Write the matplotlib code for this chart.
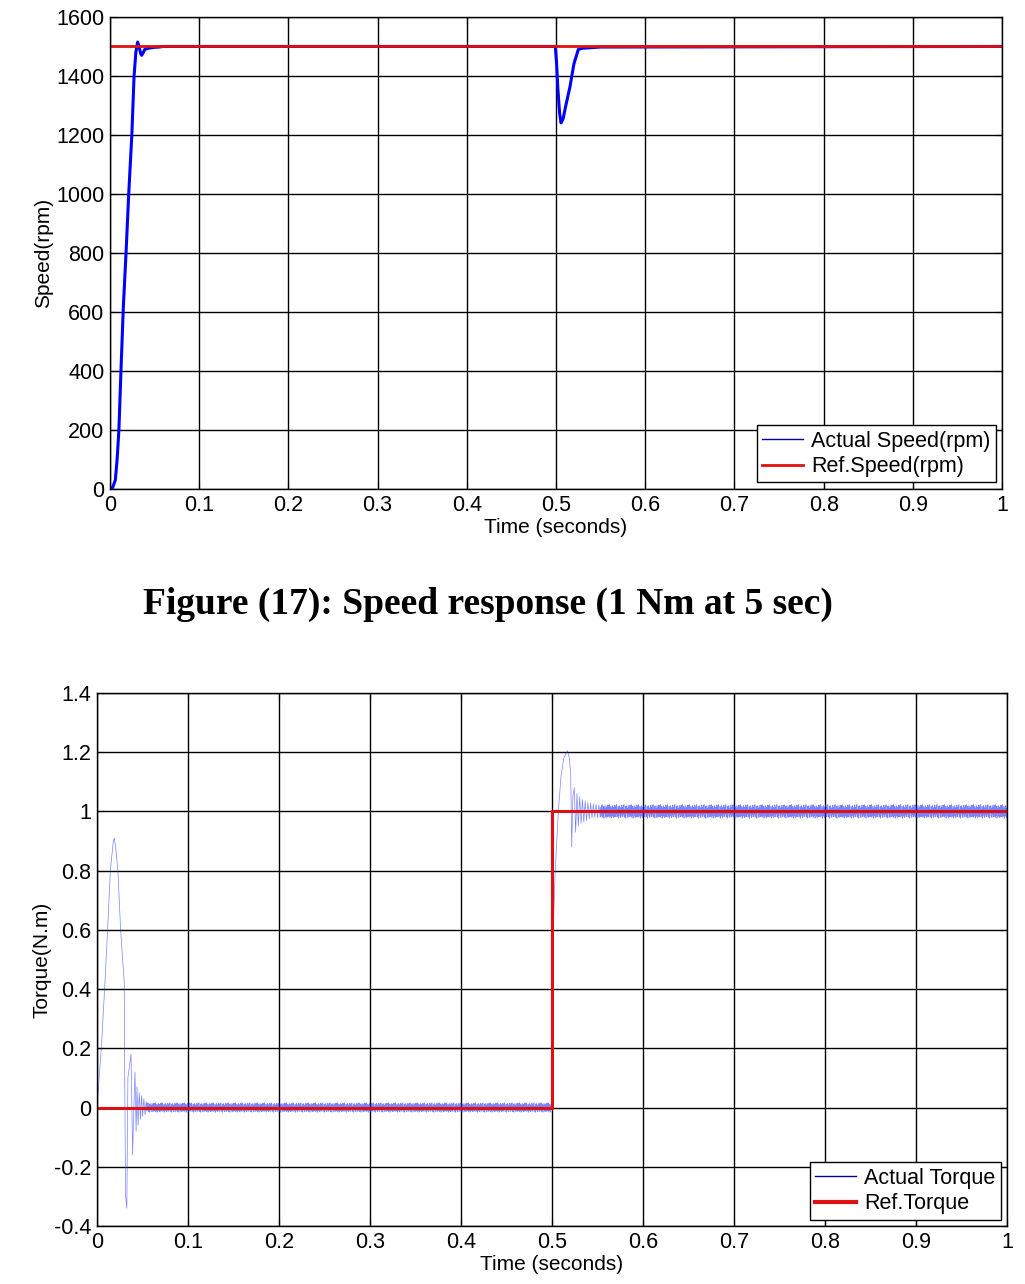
import numpy as np
import matplotlib.pyplot as plt
from matplotlib.lines import Line2D

plt.rcParams['font.family'] = ['Liberation Sans', 'DejaVu Sans']

# ---- speed response ----
speed_t = [0, 0.003, 0.006, 0.008, 0.010, 0.0123, 0.015, 0.018, 0.021, 0.0245,
           0.027, 0.029, 0.031, 0.0325, 0.0345, 0.0355, 0.037, 0.039, 0.042, 0.045,
           0.05, 0.055, 0.06, 0.495, 0.4992, 0.5007, 0.502, 0.504, 0.5056, 0.508,
           0.511, 0.5157, 0.520, 0.525, 0.53, 0.54, 0.55, 1.0]
speed_v = [0, 5, 30, 100, 200, 400, 620, 800, 1000, 1200,
           1400, 1480, 1515, 1500, 1475, 1470, 1478, 1490, 1493, 1495,
           1497, 1498, 1500, 1500, 1500, 1440, 1360, 1275, 1241, 1255,
           1300, 1364, 1440, 1490, 1494, 1496, 1498, 1500]
ref_speed_t = [0, 1.0]
ref_speed_v = [1500, 1500]

# ---- torque response ----
start_t = [0, 0.0048, 0.0084, 0.0117, 0.0147, 0.018, 0.019, 0.0205, 0.023, 0.026,
           0.0300, 0.0305, 0.0315, 0.0328, 0.0340, 0.0374, 0.0383, 0.0392, 0.0405,
           0.0418, 0.0430, 0.0440, 0.0452, 0.0465, 0.0478, 0.0490, 0.0502, 0.0515,
           0.0528, 0.0540]
start_v = [0, 0.2, 0.4, 0.6, 0.8, 0.9, 0.91, 0.88, 0.8, 0.6,
           0.42, 0.1, -0.3, -0.34, 0.1, 0.18, 0.02, -0.16, 0.0,
           0.12, -0.08, 0.07, -0.06, 0.05, -0.04, 0.04, -0.03, 0.03,
           -0.025, 0.02]
step_t = [0.4995, 0.5000, 0.5014, 0.5036, 0.507, 0.510, 0.513, 0.517, 0.519, 0.5206,
          0.5217, 0.523, 0.5245, 0.526, 0.5275, 0.529, 0.5305, 0.532, 0.5335, 0.535,
          0.5365, 0.538, 0.5395, 0.541, 0.5425, 0.544, 0.5455, 0.547, 0.5485, 0.550,
          0.5515, 0.553]
step_v = [0.0, 0.4, 0.6, 0.8, 1.0, 1.12, 1.18, 1.205, 1.18, 1.13,
          0.88, 1.05, 1.08, 0.93, 1.06, 0.95, 1.05, 0.96, 1.04, 0.965,
          1.035, 0.97, 1.03, 0.975, 1.028, 0.978, 1.025, 0.98, 1.024, 0.978,
          1.022, 0.98]
ripple = [0.012, -0.015, 0.018, -0.008, 0.020, -0.017, 0.006, -0.012, 0.015, -0.020,
          0.010, -0.005, 0.017, -0.014, 0.009, -0.018, 0.013, -0.010, 0.019, -0.016]
ripple_step = 0.0004
ref_torque_t = [0, 0.5, 0.5, 1.0]
ref_torque_v = [0, 0, 1, 1]


def ripple_segment(t0, t1, level, scale):
    t = np.arange(t0, t1, ripple_step)
    r = np.resize(ripple, len(t)) * scale
    return t, level + r


t_a, v_a = ripple_segment(0.0545, 0.4995, 0.0, 0.8)
t_b, v_b = ripple_segment(0.5535, 1.0, 1.0, 1.15)
torque_t = np.concatenate([start_t, t_a, step_t, t_b])
torque_v = np.concatenate([start_v, v_a, step_v, v_b])

fig = plt.figure(figsize=(10.25, 12.84), dpi=100)
ax1 = fig.add_axes([0.1073, 0.6192, 0.8703, 0.3676])
ax2 = fig.add_axes([0.0946, 0.0452, 0.8878, 0.4151])


def style_axes(ax):
    ax.grid(True, color='black', linewidth=1.0)
    ax.tick_params(direction='in', top=True, right=True, length=5,
                   labelsize=15.5, pad=4)
    for s in ax.spines.values():
        s.set_linewidth(1.0)
    ax.set_xlim(0, 1)
    ax.set_xticks(np.arange(0, 1.01, 0.1))
    ax.set_xticklabels(['0', '0.1', '0.2', '0.3', '0.4', '0.5', '0.6', '0.7', '0.8', '0.9', '1'])
    ax.set_xlabel('Time (seconds)', fontsize=15, labelpad=2)


def make_legend(ax, handles, labels):
    leg = ax.legend(handles, labels, loc='lower right',
                    fontsize=15.5, frameon=True, fancybox=False, framealpha=1,
                    edgecolor='black', handlelength=1.9, borderpad=0.25,
                    labelspacing=0.2, handletextpad=0.35, borderaxespad=0.3)
    leg.get_frame().set_linewidth(1.0)
    return leg


# top: speed
ax1.plot(speed_t, speed_v, color='#0000ff', linewidth=2.2)
ax1.plot(ref_speed_t, ref_speed_v, color='#dd1111', linewidth=2)
style_axes(ax1)
ax1.set_ylim(0, 1600)
ax1.set_yticks(np.arange(0, 1601, 200))
ax1.set_ylabel('Speed(rpm)', fontsize=15, labelpad=2)
h1 = [Line2D([], [], color='#0000aa', linewidth=1),
      Line2D([], [], color='#dd1111', linewidth=2)]
make_legend(ax1, h1, ['Actual Speed(rpm)', 'Ref.Speed(rpm)'])

fig.text(0.476, 0.529, 'Figure (17): Speed response (1 Nm at 5 sec)',
         family='Liberation Serif', fontweight='bold', fontsize=27,
         ha='center', va='center')

# bottom: torque
ax2.plot(torque_t, torque_v, color='#2233ff', linewidth=0.5, alpha=0.6)
ax2.plot(ref_torque_t, ref_torque_v, color='#dd1111', linewidth=2.2)
style_axes(ax2)
ax2.set_ylim(-0.4, 1.4)
ax2.set_yticks(np.arange(-0.4, 1.41, 0.2))
ax2.set_yticklabels(['-0.4', '-0.2', '0', '0.2', '0.4', '0.6', '0.8', '1', '1.2', '1.4'])
ax2.set_ylabel('Torque(N.m)', fontsize=15, labelpad=2)
h2 = [Line2D([], [], color='#000088', linewidth=1),
      Line2D([], [], color='#dd1111', linewidth=3)]
make_legend(ax2, h2, ['Actual Torque', 'Ref.Torque'])

fig.savefig('out.png', dpi=100)
